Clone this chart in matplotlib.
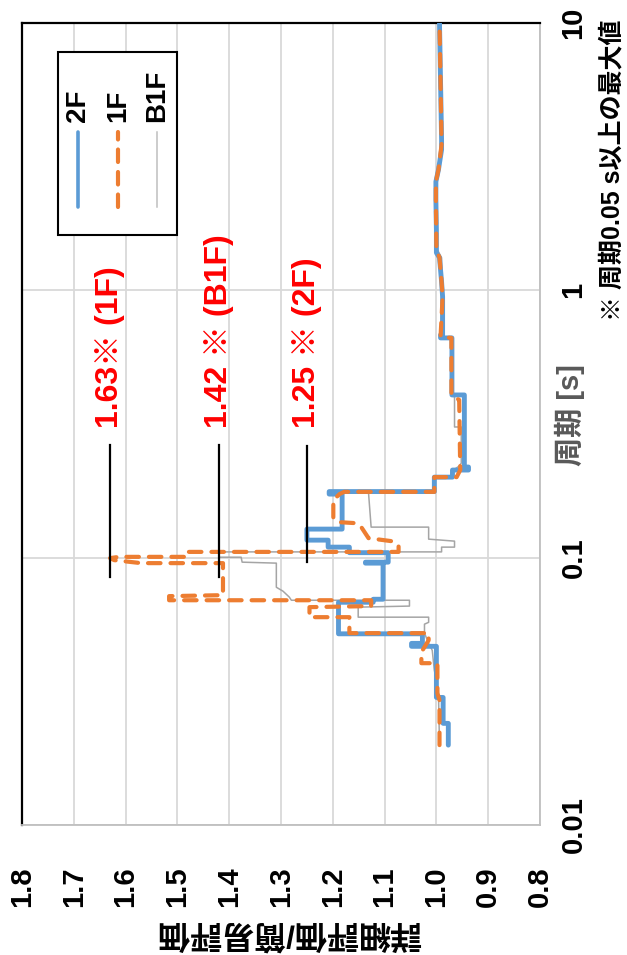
import matplotlib
matplotlib.use("Agg")
import matplotlib.pyplot as plt
from matplotlib.patches import Rectangle
from matplotlib.ticker import NullLocator

plt.rcParams['font.family'] = ['Liberation Sans', 'Noto Sans CJK JP']
plt.rcParams['font.weight'] = 'bold'

# ratio of detailed / simple evaluation against period, per floor (step traces)
period_2f = [0.0199, 0.0240, 0.0240, 0.0300, 0.0300, 0.0466, 0.0466, 0.0478, 0.0478, 0.0519,
             0.0519, 0.0681, 0.0681, 0.0699, 0.0699, 0.0954, 0.0954, 0.0962, 0.0962, 0.1044,
             0.1044, 0.1095, 0.1095, 0.1163, 0.1163, 0.1279, 0.1279, 0.1729, 0.1729, 0.1767,
             0.1767, 0.2001, 0.2001, 0.2127, 0.2127, 0.2183, 0.2183, 0.4061, 0.4061, 0.6638,
             0.6638, 0.6812, 0.6812, 0.9456, 1.076, 1.324, 1.382, 1.685, 2.183, 2.549,
             2.827, 3.360, 3.662, 6.040, 10.0]
ratio_2f = [0.977, 0.977, 0.987, 0.987, 1.000, 1.000, 1.048, 1.048, 1.027, 1.027,
            1.189, 1.189, 1.122, 1.122, 1.103, 1.103, 1.137, 1.137, 1.093, 1.093,
            1.168, 1.168, 1.209, 1.209, 1.250, 1.250, 1.182, 1.182, 1.207, 1.207,
            1.004, 1.004, 0.969, 0.969, 0.938, 0.938, 0.946, 0.946, 0.970, 0.970,
            0.992, 0.992, 0.988, 0.988, 0.990, 0.994, 1.000, 1.000, 1.001, 1.001,
            0.996, 0.990, 0.990, 0.992, 0.994]

period_1f = [0.0199, 0.0293, 0.0311, 0.0403, 0.0403, 0.0443, 0.0470, 0.0491, 0.0522, 0.0522,
             0.0599, 0.0599, 0.0653, 0.0659, 0.0693, 0.0693, 0.0693, 0.0718, 0.0724, 0.0954,
             0.0954, 0.0979, 0.0996, 0.1007, 0.1007, 0.1051, 0.1051, 0.1114, 0.1153, 0.1183,
             0.1301, 0.1346, 0.1358, 0.1405, 0.1642, 0.1729, 0.1763, 0.1763, 0.2001, 0.2001,
             0.2127, 0.3890, 0.4061, 0.6638, 0.6695, 0.9456, 1.076, 1.324, 1.418, 2.183,
             2.549, 2.827, 3.507, 6.040, 10.0]
ratio_1f = [0.994, 0.994, 0.998, 0.998, 1.029, 1.029, 1.021, 1.015, 1.015, 1.168,
            1.168, 1.245, 1.245, 1.126, 1.126, 1.412, 1.516, 1.516, 1.412, 1.412,
            1.570, 1.622, 1.630, 1.613, 1.487, 1.487, 1.073, 1.073, 1.087, 1.131,
            1.145, 1.155, 1.189, 1.199, 1.199, 1.187, 1.178, 1.004, 1.004, 0.961,
            0.954, 0.956, 0.971, 0.971, 0.992, 0.988, 0.990, 0.994, 1.000, 1.001,
            1.001, 0.996, 0.990, 0.992, 0.994]

period_b1f = [0.0199, 0.0311, 0.0348, 0.0379, 0.0450, 0.0478, 0.0522, 0.0564, 0.0573, 0.0599,
              0.0599, 0.0653, 0.0659, 0.0693, 0.0693, 0.0712, 0.0749, 0.0775, 0.0954, 0.0962,
              0.1004, 0.1004, 0.1051, 0.1051, 0.1095, 0.1095, 0.1153, 0.1173, 0.1301, 0.1301,
              0.1744, 0.1763, 0.1984, 0.2019, 0.2127, 0.2202, 0.2258, 0.3082, 0.3082, 0.3992,
              0.4061, 0.6638, 0.6695, 0.9456, 1.324, 1.418, 2.183, 2.549, 2.827, 3.507,
              6.040, 10.0]
ratio_b1f = [0.994, 0.996, 1.000, 1.004, 1.008, 1.015, 1.023, 1.023, 1.015, 1.015,
             1.151, 1.151, 1.052, 1.052, 1.280, 1.284, 1.296, 1.309, 1.309, 1.375,
             1.377, 1.420, 1.420, 0.990, 0.990, 0.965, 0.965, 1.015, 1.015, 1.126,
             1.131, 1.004, 1.004, 0.967, 0.967, 0.956, 0.952, 0.952, 0.965, 0.965,
             0.971, 0.971, 0.992, 0.990, 0.990, 0.998, 1.001, 1.001, 0.996, 0.991,
             0.992, 0.994]

# maxima for period >= 0.05 s
peak_values = [1.63, 1.42, 1.25]
peak_labels = ['1.63※ (1F)', '1.42 ※ (B1F)', '1.25 ※ (2F)']
peak_period_lo = [0.0845, 0.0845, 0.0962]
peak_period_hi = [0.264, 0.264, 0.262]

ratio_ticks = [1.8, 1.7, 1.6, 1.5, 1.4, 1.3, 1.2, 1.1, 1.0, 0.9, 0.8]
period_ticks = [0.01, 0.1, 1, 10]
period_tick_labels = ['0.01', '0.1', '1', '10']

blue = '#5b9bd5'
orange = '#ed7d31'
gray = '#a5a5a5'

fig = plt.figure(figsize=(6.27, 9.55), dpi=100)
ax = fig.add_axes([22 / 627, 130 / 955, 518 / 627, 802 / 955])

# chart is laid out turned on its side: ratio runs across, period runs up
ax.plot(ratio_b1f, period_b1f, color=gray, lw=1.1, zorder=3)
ax.plot(ratio_2f, period_2f, color=blue, lw=3.5, solid_capstyle='round',
        solid_joinstyle='round', zorder=4)
ax.plot(ratio_1f, period_1f, color=orange, lw=3.0, linestyle=(0, (3, 2.4)),
        dash_capstyle='round', dash_joinstyle='round', zorder=5)

for val, lo, hi, txt in zip(peak_values, peak_period_lo, peak_period_hi, peak_labels):
    ax.plot([val, val], [lo, hi], color='black', lw=1.6, zorder=6)
    ax.text(val, 0.305, txt, rotation=90, ha='center', va='bottom',
            color='#ff0000', fontsize=23, zorder=7)

ax.set_yscale('log')
ax.set_xlim(1.8, 0.8)
ax.set_ylim(0.01, 10)
ax.set_xticks(ratio_ticks)
ax.set_xticklabels([f'{v:.1f}' for v in ratio_ticks], rotation=90)
ax.set_yticks(period_ticks)
ax.set_yticklabels(period_tick_labels)
ax.yaxis.set_minor_locator(NullLocator())
ax.yaxis.tick_right()
ax.tick_params(axis='x', length=0, pad=30, labelsize=21)
ax.tick_params(axis='y', length=0, pad=14, labelsize=21, labelrotation=90)
for lab in ax.get_yticklabels():
    lab.set_va('center')

ax.grid(True, color='#d9d9d9', lw=1.3, zorder=0)
ax.set_axisbelow(True)
for side in ['top', 'left']:
    ax.spines[side].set_color('black')
    ax.spines[side].set_linewidth(1.6)
for side in ['bottom', 'right']:
    ax.spines[side].set_color('#bfbfbf')
    ax.spines[side].set_linewidth(1.3)

# legend box drawn on its side
ax.add_patch(Rectangle((0.0695, 0.7357), 0.2295, 0.2283, transform=ax.transAxes,
                       facecolor='white', edgecolor='black', lw=1.5, zorder=8))
ax.plot([0.108, 0.108], [0.7706, 0.864], transform=ax.transAxes, color=blue, lw=2.6,
        solid_capstyle='round', zorder=9)
ax.plot([0.185, 0.185], [0.7706, 0.864], transform=ax.transAxes, color=orange, lw=3.0,
        linestyle=(0, (3, 2.4)), dash_capstyle='round', zorder=9)
ax.plot([0.261, 0.261], [0.7706, 0.864], transform=ax.transAxes, color='#bfbfbf', lw=1.1,
        zorder=9)
for xpos, name in zip([0.108, 0.185, 0.261], ['2F', '1F', 'B1F']):
    ax.text(xpos, 0.8766, name, transform=ax.transAxes, rotation=90, ha='center',
            va='bottom', fontsize=20, zorder=9)

fig.text(570 / 627, 1 - 415 / 955, '周期 [s]', rotation=90, ha='center', va='center',
         fontsize=21, color='#595959')
fig.text(612 / 627, 1 - 170 / 955, '※ 周期0.05 s以上の最大値', rotation=90, ha='center',
         va='center', fontsize=18, color='black')
fig.text(289 / 627, 1 - 932 / 955, '詳細評価/簡易評価', rotation=180, ha='center',
         va='center', fontsize=23, color='black')

fig.savefig('out.png', dpi=100)
